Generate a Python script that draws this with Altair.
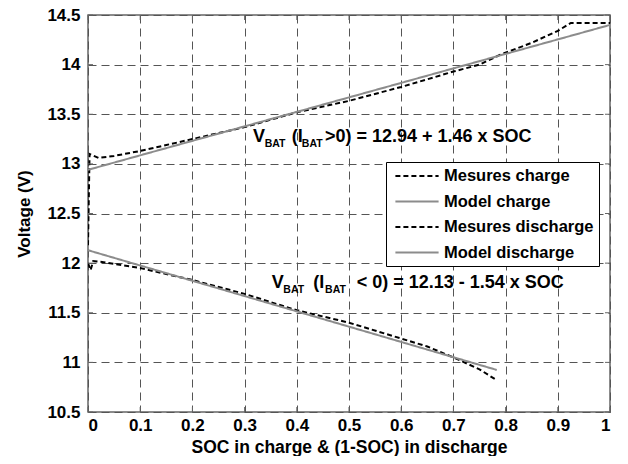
import altair as alt
import pandas as pd

# ---- data ----
charge_meas_x = [0.0, 0.003, 0.02, 0.05, 0.1, 0.15, 0.2, 0.3, 0.4, 0.5, 0.6, 0.7, 0.75, 0.79, 0.85, 0.9, 0.925, 1.0]
charge_meas_y = [12.18, 13.1, 13.06, 13.08, 13.13, 13.19, 13.25, 13.37, 13.52, 13.635, 13.775, 13.93, 14.0, 14.1, 14.22, 14.34, 14.42, 14.42]

charge_model_x = [0.0, 1.0]
charge_model_y = [12.94, 14.40]

dis_meas_x = [0.0, 0.005, 0.01, 0.03, 0.1, 0.2, 0.3, 0.4, 0.5, 0.6, 0.65, 0.7, 0.75, 0.783]
dis_meas_y = [12.0, 11.93, 12.02, 12.01, 11.95, 11.83, 11.69, 11.525, 11.40, 11.24, 11.16, 11.05, 10.93, 10.82]

dis_model_x = [0.0, 0.783]
dis_model_y = [12.13, 10.924]

series_names = ["Mesures charge", "Model charge", "Mesures discharge", "Model discharge"]
series_colors = ["#000000", "#8c8c8c", "#000000", "#8c8c8c"]
series_dash = [[5, 3], [1, 0], [5, 3], [1, 0]]

x_ticks = [0, 0.1, 0.2, 0.3, 0.4, 0.5, 0.6, 0.7, 0.8, 0.9, 1]
y_ticks = [10.5, 11, 11.5, 12, 12.5, 13, 13.5, 14, 14.5]

# annotation pieces: (text, x, y, dx, dy, size)
ann_charge = [
    ("V", 0.316, 13.217, 0, 0, 18),
    ("BAT", 0.316, 13.217, 11.7, 4.5, 10.5),
    ("(I", 0.316, 13.217, 38.7, 0, 18),
    ("BAT", 0.316, 13.217, 48.9, 4.5, 10.5),
    (">0) = 12.94 + 1.46 x SOC", 0.316, 13.217, 72, 0, 18),
]
ann_dis = [
    ("V", 0.352, 11.749, 0, 0, 18),
    ("BAT", 0.352, 11.749, 11.6, 4.5, 10.5),
    ("(I", 0.352, 11.749, 41.6, 0, 18),
    ("BAT", 0.352, 11.749, 53.3, 4.5, 10.5),
    ("< 0) = 12.13 - 1.54 x SOC", 0.352, 11.749, 85, 0, 18),
]

FONT = "Liberation Sans"
FRAME = "#666666"
W, H = 522, 397

rows = []
for name, xs, ys in [
    (series_names[0], charge_meas_x, charge_meas_y),
    (series_names[1], charge_model_x, charge_model_y),
    (series_names[2], dis_meas_x, dis_meas_y),
    (series_names[3], dis_model_x, dis_model_y),
]:
    for i, (x, y) in enumerate(zip(xs, ys)):
        rows.append({"soc": x, "v": y, "series": name, "ord": i})
df = pd.DataFrame(rows)

xscale = alt.Scale(domain=[0, 1], nice=False, zero=False)
yscale = alt.Scale(domain=[10.5, 14.5], nice=False, zero=False)
x_axis = alt.Axis(values=x_ticks, labelExpr="datum.value + ''",
                  title="SOC in charge & (1-SOC) in discharge")
y_axis = alt.Axis(values=y_ticks, labelExpr="datum.value + ''", title="Voltage (V)")

lines = alt.Chart(df).mark_line(strokeWidth=2, clip=True).encode(
    x=alt.X("soc:Q", scale=xscale, axis=x_axis),
    y=alt.Y("v:Q", scale=yscale, axis=y_axis),
    color=alt.Color("series:N", scale=alt.Scale(domain=series_names, range=series_colors),
                    legend=alt.Legend(title=None)),
    strokeDash=alt.StrokeDash("series:N", scale=alt.Scale(domain=series_names, range=series_dash),
                              legend=alt.Legend(title=None)),
    detail="series:N",
    order="ord:Q",
)

# inward tick marks on all four sides (MATLAB style)
xt = pd.DataFrame({"soc": x_ticks})
yt = pd.DataFrame({"v": y_ticks})
tick_layers = [
    alt.Chart(xt).mark_rule(color=FRAME, strokeWidth=1).encode(
        x=alt.X("soc:Q", scale=xscale, axis=x_axis), y=alt.value(H), y2=alt.value(H - 5)),
    alt.Chart(xt).mark_rule(color=FRAME, strokeWidth=1).encode(
        x=alt.X("soc:Q", scale=xscale, axis=x_axis), y=alt.value(0), y2=alt.value(5)),
    alt.Chart(yt).mark_rule(color=FRAME, strokeWidth=1).encode(
        y=alt.Y("v:Q", scale=yscale, axis=y_axis), x=alt.value(0), x2=alt.value(5)),
    alt.Chart(yt).mark_rule(color=FRAME, strokeWidth=1).encode(
        y=alt.Y("v:Q", scale=yscale, axis=y_axis), x=alt.value(W - 5), x2=alt.value(W)),
]

layers = [lines] + tick_layers
for pieces in (ann_charge, ann_dis):
    for text, x, y, dx, dy, size in pieces:
        d = pd.DataFrame({"soc": [x], "v": [y], "t": [text]})
        layers.append(
            alt.Chart(d).mark_text(align="left", baseline="alphabetic", dx=dx, dy=dy,
                                   font=FONT, fontWeight="bold", fontSize=size, color="black").encode(
                x=alt.X("soc:Q", scale=xscale, axis=x_axis),
                y=alt.Y("v:Q", scale=yscale, axis=y_axis), text="t:N")
        )

chart = alt.layer(*layers).properties(
    width=W, height=H,
    autosize=alt.AutoSizeParams(type="none"),
    padding={"left": 80, "top": 7, "right": 10, "bottom": 44},
).configure_view(
    stroke=FRAME, strokeWidth=1.5
).configure_axis(
    labelFont=FONT, labelFontWeight="bold", labelFontSize=17, labelColor="black",
    titleFont=FONT, titleFontWeight="bold", titleColor="black",
    grid=True, gridColor="#555555", gridDash=[8, 5], gridWidth=1, gridOpacity=1,
    domain=False, ticks=False,
).configure_axisX(
    labelPadding=5, titleFontSize=17.5, titleBaseline="alphabetic", titleY=40
).configure_axisY(
    labelPadding=8, titleFontSize=17, titlePadding=13
).configure_legend(
    orient="none", legendX=298, legendY=147,
    fillColor="white", strokeColor="black", padding=5,
    labelFont=FONT, labelFontWeight="bold", labelFontSize=16.5, labelColor="black",
    symbolType="M-2.7,0H2.7", symbolSize=256, symbolStrokeWidth=2,
    symbolOffset=17, labelOffset=18, rowPadding=7.5, labelLimit=300,
)

chart.save("out.html", embed_options={"renderer": "svg", "actions": False})
